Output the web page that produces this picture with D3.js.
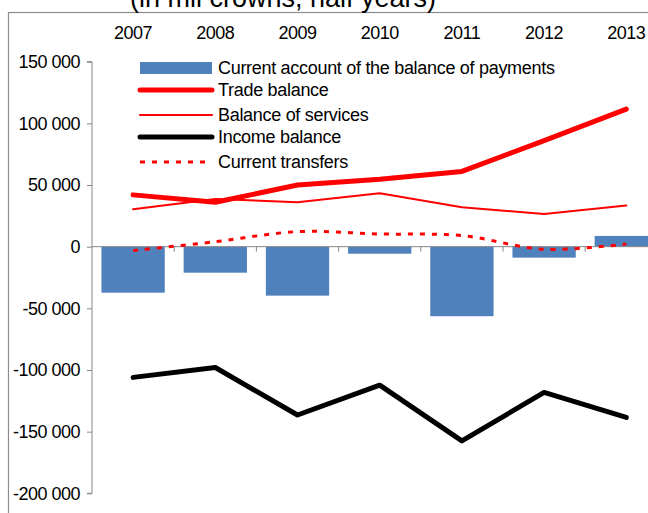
<!DOCTYPE html>
<html>
<head>
<meta charset="utf-8">
<script src="https://cdn.jsdelivr.net/npm/d3@7"></script>
<style>
  body { margin: 0; background: #fff; }
  svg { display: block; font-family: "Liberation Sans", Arial, sans-serif; }
</style>
</head>
<body>
<div id="chart"></div>
<script>
'use strict';

// chart values (mil crowns)
var years = ['2007', '2008', '2009', '2010', '2011', '2012', '2013'];
var currentAccount = [-37300, -21100, -39700, -5700, -56400, -8900, 8700];
var tradeBalance = [42000, 36000, 50000, 54700, 61000, 86000, 111500];
var servicesBalance = [30300, 38700, 36000, 43300, 32000, 26500, 33300];
var incomeBalance = [-106000, -98000, -136500, -112300, -157500, -118200, -138500];
var currentTransfers = [-3200, 4000, 12200, 10300, 9000, -2100, 2200];
var yTicks = [150000, 100000, 50000, 0, -50000, -100000, -150000, -200000];
var titleText = '(in mil crowns, half years)';
var legendLabels = ['Current account of the balance of payments', 'Trade balance',
    'Balance of services', 'Income balance', 'Current transfers'];

var myApp = {};

myApp.w = 648;
myApp.h = 513;
myApp.plot = {left: 92, top: 61.7, bottom: 493.3, step: 82.2};
myApp.axisColor = '#868686';

myApp.fmt = d3.formatLocale({decimal: '.', thousands: ' ', grouping: [3], currency: ['', ''], minus: '-'}).format(',');

myApp.appendSvg = function(div)
{
    var svg = d3.select(div).append('svg')
        .attr('width', myApp.w)
        .attr('height', myApp.h);
    return svg;
}

myApp.buildScales = function()
{
    var p = myApp.plot;
    myApp.x = d3.scaleBand()
        .domain(years)
        .range([p.left, p.left + p.step * years.length]);
    myApp.y = d3.scaleLinear()
        .domain([-200000, 150000])
        .range([p.bottom, p.top]);
}

myApp.drawFrame = function(svg)
{
    // outer chart border, runs off the right and bottom of the picture
    svg.append('rect')
        .attr('x', 8.5).attr('y', 12.5)
        .attr('width', 700).attr('height', 600)
        .style('fill', 'none')
        .style('stroke', '#8c8c8c')
        .style('stroke-width', 1.2);

    svg.append('text')
        .attr('x', 283).attr('y', 7)
        .attr('text-anchor', 'middle')
        .style('font-size', '27px')
        .text(titleText);
}

myApp.drawAxes = function(svg)
{
    var x = myApp.x, y = myApp.y;

    var yAxis = d3.axisLeft(y)
        .tickValues(yTicks)
        .tickSize(5)
        .tickPadding(7)
        .tickFormat(myApp.fmt);

    var gy = svg.append('g')
        .attr('transform', 'translate(' + myApp.plot.left + ',0)')
        .call(yAxis);
    gy.select('.domain').attr('d', 'M-5,' + y(150000) + 'H0V' + y(-200000) + 'H-5');
    gy.selectAll('line, .domain').style('stroke', myApp.axisColor);
    gy.selectAll('text')
        .style('font-size', '18px')
        .style('letter-spacing', '-0.5px')
        .style('fill', '#000');

    // zero line with category separators
    var zeroY = y(0);
    var gx = svg.append('g');
    gx.append('line')
        .attr('x1', x.range()[0]).attr('x2', x.range()[1])
        .attr('y1', zeroY).attr('y2', zeroY)
        .style('stroke', myApp.axisColor);
    gx.selectAll('line.sep')
        .data(years.slice(1))
        .enter()
        .append('line')
        .attr('class', 'sep')
        .attr('x1', function(d){ return x(d); })
        .attr('x2', function(d){ return x(d); })
        .attr('y1', zeroY).attr('y2', zeroY + 5)
        .style('stroke', myApp.axisColor);

    // year labels sit at the top of the plot
    svg.selectAll('text.year')
        .data(years)
        .enter()
        .append('text')
        .attr('class', 'year')
        .attr('x', function(d){ return x(d) + x.bandwidth() / 2; })
        .attr('y', 39)
        .attr('text-anchor', 'middle')
        .style('font-size', '18px')
        .style('letter-spacing', '-0.5px')
        .text(function(d){ return d; });
}

myApp.drawBars = function(svg)
{
    var x = myApp.x, y = myApp.y;
    var bw = x.bandwidth() * 0.77;

    svg.append('g').selectAll('rect')
        .data(currentAccount)
        .enter()
        .append('rect')
        .attr('x', function(d, i){ return x(years[i]) + (x.bandwidth() - bw) / 2; })
        .attr('width', bw)
        .attr('y', function(d){ return y(Math.max(0, d)); })
        .attr('height', function(d){ return Math.abs(y(d) - y(0)); })
        .style('fill', '#4f81bd');
}

myApp.drawLine = function(svg, values, color, width, dash, curve)
{
    var x = myApp.x, y = myApp.y;
    var line = d3.line()
        .x(function(d, i){ return x(years[i]) + x.bandwidth() / 2; })
        .y(function(d){ return y(d); })
        .curve(curve || d3.curveLinear);

    svg.append('path')
        .datum(values)
        .attr('d', line)
        .style('fill', 'none')
        .style('stroke', color)
        .style('stroke-width', width)
        .style('stroke-linejoin', 'round')
        .style('stroke-linecap', dash ? 'butt' : 'round')
        .style('stroke-dasharray', dash || null);
}

myApp.drawLegend = function(svg)
{
    var items = [
        {label: legendLabels[0], type: 'bar'},
        {label: legendLabels[1], color: '#ff0000', width: 5},
        {label: legendLabels[2], color: '#ff0000', width: 2},
        {label: legendLabels[3], color: '#000', width: 5},
        {label: legendLabels[4], color: '#ff0000', width: 3, dash: '5,7'}
    ];
    var rowY = [68, 90, 115, 137, 162];

    var g = svg.append('g');
    items.forEach(function(it, i){
        if (it.type == 'bar') {
            g.append('rect')
                .attr('x', 140).attr('y', rowY[i] - 6)
                .attr('width', 72).attr('height', 12)
                .style('fill', '#4f81bd');
        } else {
            g.append('line')
                .attr('x1', 140).attr('x2', 212)
                .attr('y1', rowY[i]).attr('y2', rowY[i])
                .style('stroke', it.color)
                .style('stroke-width', it.width)
                .style('stroke-linecap', it.dash ? 'butt' : 'round')
                .style('stroke-dasharray', it.dash || null);
        }
        g.append('text')
            .attr('x', 218)
            .attr('y', rowY[i] + 6)
            .style('font-size', '18px')
            .style('letter-spacing', '-0.3px')
            .text(it.label);
    });
}

myApp.run = function()
{
    var svg = myApp.appendSvg('#chart');
    myApp.buildScales();
    myApp.drawFrame(svg);
    myApp.drawBars(svg);
    myApp.drawAxes(svg);
    myApp.drawLine(svg, servicesBalance, '#ff0000', 2);
    myApp.drawLine(svg, tradeBalance, '#ff0000', 5);
    myApp.drawLine(svg, currentTransfers, '#ff0000', 3, '5,7', d3.curveCatmullRom.alpha(0.5));
    myApp.drawLine(svg, incomeBalance, '#000', 5);
    myApp.drawLegend(svg);
}

myApp.run();
</script>
</body>
</html>
